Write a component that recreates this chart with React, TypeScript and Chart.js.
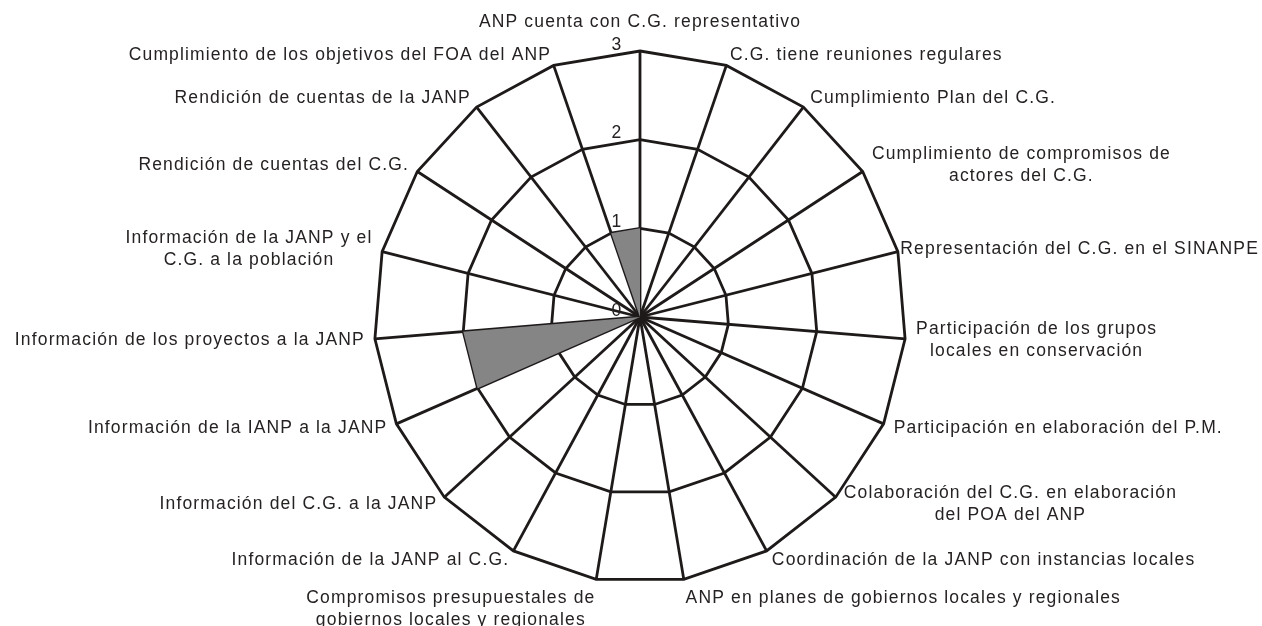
import React, { useEffect, useRef } from "react";
import { Chart, registerables } from "chart.js";

Chart.register(...registerables);

const categories: (string | string[])[] = [
  "ANP cuenta con C.G. representativo",
  "C.G. tiene reuniones regulares",
  "Cumplimiento Plan del C.G.",
  ["Cumplimiento de compromisos de", "actores del C.G."],
  "Representación del C.G. en el SINANPE",
  ["Participación de los grupos", "locales en conservación"],
  "Participación en elaboración del P.M.",
  ["Colaboración del C.G. en elaboración", "del POA del ANP"],
  "Coordinación de la JANP con instancias locales",
  "ANP en planes de gobiernos locales y regionales",
  ["Compromisos presupuestales de", "gobiernos locales y regionales"],
  "Información de la JANP al C.G.",
  "Información del C.G. a la JANP",
  "Información de la IANP a la JANP",
  "Información de los proyectos a la JANP",
  ["Información de la JANP y el", "C.G. a la población"],
  "Rendición de cuentas del C.G.",
  "Rendición de cuentas de la JANP",
  "Cumplimiento de los objetivos del FOA del ANP",
];

const values = [1, 0, 0, 0, 0, 0, 0, 0, 0, 0, 0, 0, 0, 2, 2, 0, 0, 0, 1];

const tickValues = [0, 1, 2, 3];

const FONT = "17.5px 'Liberation Sans', Arial, sans-serif";
const TEXT_COLOR = "#262222";
const LINE_COLOR = "#1e1a1a";

const labelPlugin = {
  id: "customLabels",
  afterDraw(chart: any) {
    const scale = chart.scales.r;
    const ctx: CanvasRenderingContext2D = chart.ctx;
    const maxRight = chart.width - 3;
    ctx.save();
    ctx.font = FONT;
    ctx.fillStyle = TEXT_COLOR;
    (ctx as any).letterSpacing = "1.15px";
    ctx.textAlign = "center";
    ctx.textBaseline = "middle";
    // tick labels
    tickValues.forEach((v) => {
      const d = scale.getDistanceFromCenterForValue(v);
      ctx.fillText(String(v), scale.xCenter - 23, scale.yCenter - d - 6);
    });
    // point labels
    const labels = chart.data.labels as (string | string[])[];
    const lineH = 22;
    labels.forEach((lab, i) => {
      const lines = Array.isArray(lab) ? lab : [lab];
      const angle = scale.getIndexAngle(i);
      const s = Math.sin(angle);
      const c = Math.cos(angle);
      const p = scale.getPointPosition(i, scale.drawingArea + 11);
      const w = Math.max(...lines.map((l) => ctx.measureText(l).width));
      const h = lines.length * lineH;
      let left: number;
      if (Math.abs(s) < 0.02) left = p.x - w / 2;
      else if (s > 0) left = Math.min(p.x, maxRight - w);
      else left = Math.max(p.x - w + 1, 3);
      let top: number;
      if (c > 0.98) top = p.y - 7 - h;
      else if (c < -0.98) top = p.y - 3;
      else top = p.y - h / 2;
      lines.forEach((l, j) => {
        ctx.fillText(l, left + w / 2, top + lineH * (j + 0.5));
      });
    });
    ctx.restore();
  },
};

export default function App() {
  const canvasRef = useRef<HTMLCanvasElement | null>(null);

  useEffect(() => {
    if (!canvasRef.current) return;
    const chart = new Chart(canvasRef.current, {
      type: "radar",
      data: {
        labels: categories,
        datasets: [
          {
            data: values,
            backgroundColor: "#858585",
            borderWidth: 0,
            fill: true,
            pointRadius: 0,
            pointHoverRadius: 0,
          },
        ],
      },
      options: {
        animation: false,
        responsive: true,
        maintainAspectRatio: false,
        layout: { padding: { top: 51, bottom: 43, left: 374, right: 356 } },
        plugins: {
          legend: { display: false },
          tooltip: { enabled: false },
        },
        scales: {
          r: {
            min: 0,
            max: 3,
            ticks: { display: false, stepSize: 1, z: 1 } as any,
            grid: { color: LINE_COLOR, lineWidth: 2.8 },
            angleLines: { color: LINE_COLOR, lineWidth: 2.8 },
            pointLabels: { display: false },
          },
        },
      },
      plugins: [labelPlugin],
    });
    return () => chart.destroy();
  }, []);

  return (
    <div style={{ position: "fixed", left: 0, top: 0, width: 1262, height: 626, background: "#fff" }}>
      <canvas ref={canvasRef} />
    </div>
  );
}
